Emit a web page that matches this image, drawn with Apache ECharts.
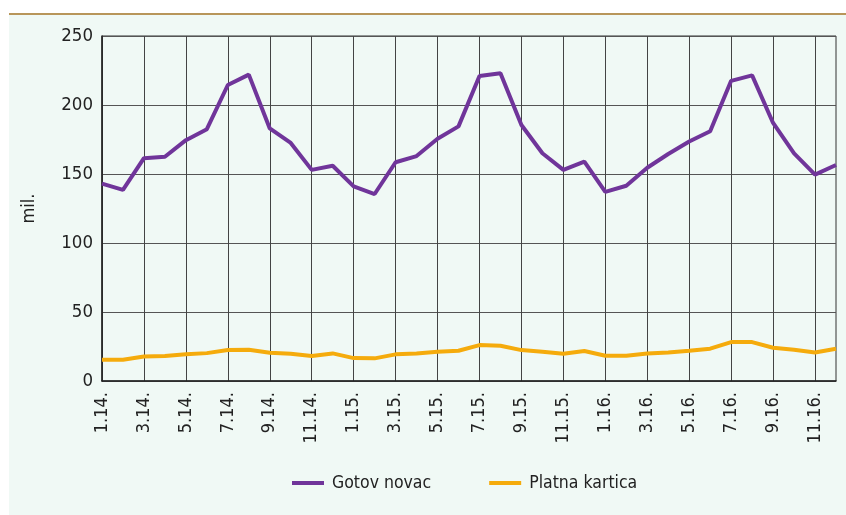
<!DOCTYPE html>
<html>
<head>
<meta charset="utf-8">
<script src="https://cdn.jsdelivr.net/npm/echarts@6/dist/echarts.min.js"></script>
<style>
  html, body { margin: 0; padding: 0; background: #ffffff; }
  #panel {
    position: absolute; left: 9px; top: 13px; width: 837px; height: 500px;
    background: #f0f9f5; border-top: 2px solid #b8965a;
  }
  #chart { position: absolute; left: 0; top: 0; width: 846px; height: 515px; }
</style>
</head>
<body>
<div id="panel"></div>
<div id="chart"></div>
<script>
// Monthly periods, January 2014 – December 2016
const months = [
  '1.14.', '2.14.', '3.14.', '4.14.', '5.14.', '6.14.', '7.14.', '8.14.', '9.14.', '10.14.', '11.14.', '12.14.',
  '1.15.', '2.15.', '3.15.', '4.15.', '5.15.', '6.15.', '7.15.', '8.15.', '9.15.', '10.15.', '11.15.', '12.15.',
  '1.16.', '2.16.', '3.16.', '4.16.', '5.16.', '6.16.', '7.16.', '8.16.', '9.16.', '10.16.', '11.16.', '12.16.'
];

// Cash payments, millions
const gotovNovac = [
  143, 138.5, 161.5, 162.5, 174.5, 182.5, 214.5, 222, 183, 172.5, 153, 156,
  141, 135.5, 158.5, 163, 175.5, 184.5, 221, 223, 185.5, 165, 153, 159,
  137, 141.5, 154.5, 164.5, 173.5, 181, 217.5, 221.5, 187, 165, 149.5, 156.5
];

// Card payments, millions
const platnaKartica = [
  15.4, 15.4, 17.8, 18.1, 19.3, 20.2, 22.4, 22.6, 20.5, 19.7, 18.1, 20,
  16.6, 16.4, 19.3, 20, 21.2, 21.9, 26, 25.5, 22.4, 21.2, 19.7, 21.7,
  18.3, 18.3, 20, 20.7, 21.9, 23.4, 28.2, 28.2, 24.1, 22.6, 20.7, 23.4
];

const yTicks = { min: 0, max: 250, interval: 50 };

const FONT = '"DejaVu Sans Condensed", "Liberation Sans Narrow", "Roboto", sans-serif';

const chart = echarts.init(document.getElementById('chart'), null, { renderer: 'canvas' });

chart.setOption({
  backgroundColor: 'transparent',
  animation: false,
  textStyle: { fontFamily: FONT },
  grid: { left: 102, right: 10, top: 36, bottom: 134, containLabel: false,
          show: true, borderColor: '#333333', borderWidth: 1 },
  legend: {
    bottom: 18,
    left: 287,
    itemWidth: 32,
    itemHeight: 4,
    itemGap: 58,
    icon: 'rect',
    textStyle: { fontFamily: FONT, fontSize: 17.5, color: '#222222', padding: [0, 0, 0, 3] },
    data: ['Gotov novac', 'Platna kartica']
  },
  xAxis: {
    type: 'category',
    data: months,
    boundaryGap: false,
    axisLine: { lineStyle: { color: '#222222', width: 1.5 } },
    axisTick: { show: false },
    axisLabel: {
      interval: 1, rotate: 90, margin: 11,
      fontFamily: FONT, fontSize: 18, color: '#222222'
    },
    splitLine: { show: true, interval: 1, lineStyle: { color: '#444444', width: 1 } }
  },
  yAxis: {
    type: 'value',
    min: yTicks.min, max: yTicks.max, interval: yTicks.interval,
    name: 'mil.',
    nameLocation: 'middle',
    nameRotate: 90,
    nameGap: 64,
    nameTextStyle: { fontFamily: FONT, fontSize: 18, color: '#222222' },
    axisLine: { show: true, lineStyle: { color: '#222222', width: 1.5 } },
    axisTick: { show: false },
    axisLabel: { margin: 9, fontFamily: FONT, fontSize: 18.5, color: '#222222' },
    splitLine: { show: true, lineStyle: { color: '#555555', width: 1 } }
  },
  series: [
    {
      name: 'Gotov novac',
      type: 'line',
      data: gotovNovac,
      symbol: 'none',
      color: '#70359a',
      lineStyle: { width: 4, color: '#70359a' },
      z: 3
    },
    {
      name: 'Platna kartica',
      type: 'line',
      data: platnaKartica,
      symbol: 'none',
      color: '#f5ab0c',
      lineStyle: { width: 4, color: '#f5ab0c' },
      z: 2
    }
  ]
});
</script>
</body>
</html>
